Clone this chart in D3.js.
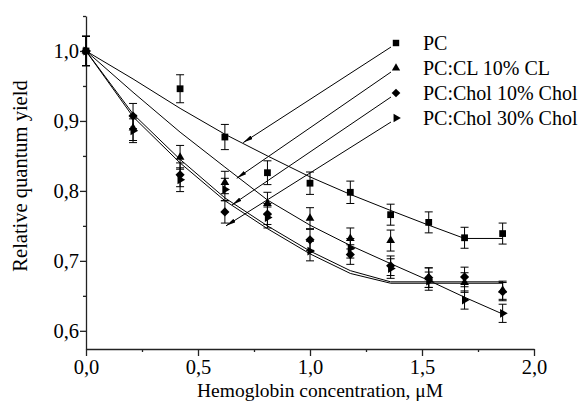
<!DOCTYPE html>
<html>
<head>
<meta charset="utf-8">
<script src="https://cdn.jsdelivr.net/npm/d3@7"></script>
<style>
  body { margin: 0; background: #fff; }
  text { font-family: "Liberation Serif", "Times New Roman", serif; fill: #000; }
</style>
</head>
<body>
<div id="chart"></div>
<script>
// concentrations, uM
const concentration = [0, 0.21, 0.42, 0.62, 0.81, 1.0, 1.18, 1.36, 1.53, 1.69, 1.86];
const seriesNames = ["PC", "PC:CL 10% CL", "PC:Chol 10% Chol", "PC:Chol 30% Chol"];

// measured relative quantum yield (null = no point)
const yieldPC     = [1.0, null,  0.946, 0.877, 0.826, 0.811, 0.798, 0.766, 0.755, 0.733, 0.739];
const yieldCL     = [1.0, 0.890, 0.848, 0.812, 0.782, 0.761, 0.732, 0.729, 0.676, 0.669, 0.658];
const yieldChol10 = [1.0, 0.907, 0.823, 0.770, 0.767, 0.730, 0.709, 0.693, 0.676, 0.677, 0.656];
const yieldChol30 = [1.0, 0.886, 0.816, 0.802, 0.762, 0.714, 0.718, 0.689, 0.671, 0.644, 0.625];

// error bars (+/-)
const errPC     = [0.021, null,  0.020, 0.018, 0.017, 0.016, 0.016, 0.015, 0.015, 0.015, 0.015];
const errCL     = [0.021, 0.018, 0.017, 0.016, 0.016, 0.015, 0.015, 0.015, 0.014, 0.014, 0.013];
const errChol10 = [0.021, 0.018, 0.017, 0.016, 0.015, 0.015, 0.014, 0.014, 0.014, 0.014, 0.013];
const errChol30 = [0.021, 0.017, 0.017, 0.016, 0.015, 0.014, 0.014, 0.014, 0.013, 0.013, 0.013];

// fitted curves, evaluated at the same concentrations
const fitPC     = [1.0, 0.960, 0.918, 0.881, 0.850, 0.820, 0.795, 0.772, 0.751, 0.732, 0.732];
const fitCL     = [1.0, 0.941, 0.884, 0.834, 0.787, 0.751, 0.722, 0.696, 0.672, 0.648, 0.624];
const fitChol10 = [1.0, 0.910, 0.845, 0.790, 0.750, 0.714, 0.686, 0.670, 0.670, 0.670, 0.670];
const fitChol30 = [1.0, 0.906, 0.840, 0.786, 0.746, 0.710, 0.682, 0.668, 0.668, 0.668, 0.668];

// where each legend arrow points (data units)
const arrowTipX = [0.702, 0.673, 0.652, 0.625];
const arrowTipY = [0.869, 0.818, 0.780, 0.750];

const xTicks = [0, 0.5, 1.0, 1.5, 2.0];
const xMinor = [0.25, 0.75, 1.25, 1.75];
const yTicks = [0.6, 0.7, 0.8, 0.9, 1.0];
const yMinor = [0.65, 0.75, 0.85, 0.95, 1.05];

const WIDTH = 582, HEIGHT = 401;
const FONT = "Liberation Serif, Times New Roman, serif";

const svg = d3.select("#chart").append("svg")
  .attr("width", WIDTH)
  .attr("height", HEIGHT);

const x = d3.scaleLinear().domain([0, 2]).range([86, 534]);
const y = d3.scaleLinear().domain([0.574, 1.05]).range([349, 16]);

const comma = d => d3.format(".1f")(d).replace(".", ",");

// axes
svg.append("g")
  .attr("transform", `translate(0, ${y(0.574)})`)
  .call(d3.axisBottom(x).tickValues(xTicks).tickFormat(comma).tickSize(7).tickPadding(3).tickSizeOuter(0));
svg.append("g")
  .attr("transform", `translate(0, ${y(0.574)})`)
  .call(d3.axisBottom(x).tickValues(xMinor).tickFormat("").tickSize(3).tickSizeOuter(0))
  .select(".domain").remove();

svg.append("g")
  .attr("transform", `translate(${x(0)}, 0)`)
  .call(d3.axisLeft(y).tickValues(yTicks).tickFormat(comma).tickSize(6).tickPadding(1).tickSizeOuter(0));
svg.append("g")
  .attr("transform", `translate(${x(0)}, 0)`)
  .call(d3.axisLeft(y).tickValues(yMinor).tickFormat("").tickSize(3).tickSizeOuter(0))
  .select(".domain").remove();

svg.selectAll(".domain, .tick line")
  .attr("stroke", "#222")
  .attr("stroke-width", 1.3);
svg.selectAll(".tick text")
  .attr("font-family", FONT)
  .attr("font-size", "20.5px")
  .attr("fill", "#000");

// axis titles
svg.append("text")
  .attr("x", 320)
  .attr("y", 396.5)
  .attr("text-anchor", "middle")
  .attr("font-family", FONT)
  .attr("font-size", "19.5px")
  .text("Hemoglobin concentration, \u03bcM");
svg.append("text")
  .attr("transform", "rotate(-90)")
  .attr("x", -176)
  .attr("y", 27)
  .attr("text-anchor", "middle")
  .attr("font-family", FONT)
  .attr("font-size", "20.5px")
  .text("Relative quantum yield");

// series
const symbols = [
  { type: d3.symbolSquare,   size: 46, rot: 0 },
  { type: d3.symbolTriangle, size: 33, rot: 0 },
  { type: d3.symbolSquare,   size: 42, rot: 45 },
  { type: d3.symbolTriangle, size: 34, rot: 90 }
];
const yields = [yieldPC, yieldCL, yieldChol10, yieldChol30];
const errors = [errPC, errCL, errChol10, errChol30];
const fits = [fitPC, fitCL, fitChol10, fitChol30];

const series = seriesNames.map((name, i) => ({
  name,
  sym: symbols[i],
  points: concentration.map((c, j) => ({ c, v: yields[i][j], e: errors[i][j] })).filter(d => d.v !== null),
  fit: concentration.map((c, j) => ({ c, v: fits[i][j] }))
}));

const line = d3.line().x(d => x(d.c)).y(d => y(d.v));

// fit lines
svg.append("g").selectAll("path")
  .data(series)
  .join("path")
  .attr("fill", "none")
  .attr("stroke", "#000")
  .attr("stroke-width", 1)
  .attr("d", d => line(d.fit));

// error bars + markers
series.forEach(s => {
  const g = svg.append("g");
  const eb = g.selectAll(".eb").data(s.points).join("g").attr("class", "eb");
  eb.append("line")
    .attr("x1", d => x(d.c)).attr("x2", d => x(d.c))
    .attr("y1", d => y(d.v + d.e)).attr("y2", d => y(d.v - d.e))
    .attr("stroke", "#000").attr("stroke-width", 1);
  [1, -1].forEach(sign => {
    eb.append("line")
      .attr("x1", d => x(d.c) - 4).attr("x2", d => x(d.c) + 4)
      .attr("y1", d => y(d.v + sign * d.e)).attr("y2", d => y(d.v + sign * d.e))
      .attr("stroke", "#000").attr("stroke-width", 1);
  });
  g.selectAll(".mk").data(s.points).join("path")
    .attr("class", "mk")
    .attr("d", d3.symbol().type(s.sym.type).size(s.sym.size))
    .attr("transform", d => `translate(${x(d.c)}, ${y(d.v)}) rotate(${s.sym.rot})`)
    .attr("fill", "#000");
});

// legend with arrows
const legendX = 396, legendY0 = 43, legendStep = 25;

svg.append("defs").append("marker")
  .attr("id", "arrow")
  .attr("viewBox", "0 0 10 4")
  .attr("refX", 10).attr("refY", 2)
  .attr("markerWidth", 10).attr("markerHeight", 4)
  .attr("markerUnits", "userSpaceOnUse")
  .attr("orient", "auto")
  .append("path")
  .attr("d", "M0,0 L10,2 L0,4 Z")
  .attr("fill", "#000");

const legend = svg.append("g");
series.forEach((s, i) => {
  const ly = legendY0 + i * legendStep;
  legend.append("path")
    .attr("d", d3.symbol().type(s.sym.type).size(s.sym.size * 0.9))
    .attr("transform", `translate(${legendX}, ${ly}) rotate(${s.sym.rot})`)
    .attr("fill", "#000");
  legend.append("text")
    .attr("x", legendX + 27)
    .attr("y", ly + 7)
    .attr("font-family", FONT)
    .attr("font-size", "20px")
    .text(s.name);
  legend.append("line")
    .attr("x1", legendX - 5).attr("y1", ly + 4)
    .attr("x2", x(arrowTipX[i])).attr("y2", y(arrowTipY[i]))
    .attr("stroke", "#000").attr("stroke-width", 1)
    .attr("marker-end", "url(#arrow)");
});
</script>
</body>
</html>
